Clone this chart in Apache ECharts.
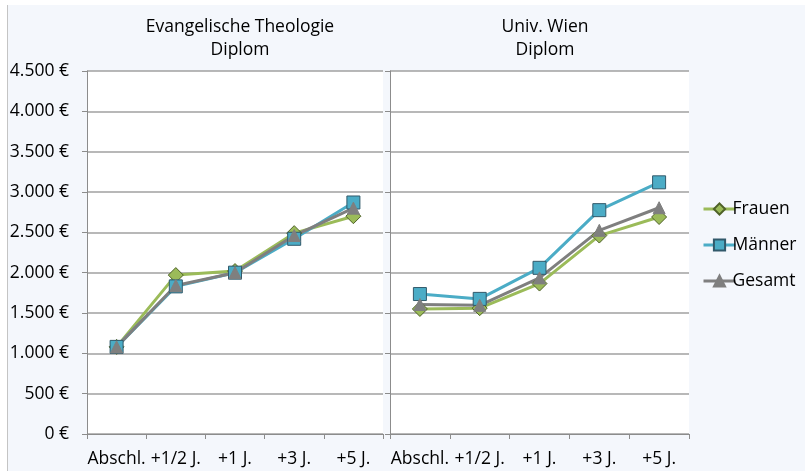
<!DOCTYPE html>
<html>
<head>
<meta charset="utf-8">
<script src="https://cdn.jsdelivr.net/npm/echarts@6/dist/echarts.min.js"></script>
<style>
  html, body { margin: 0; padding: 0; background: #ffffff; }
  #bg { position: absolute; left: 7px; top: 5px; width: 798px; height: 466px;
        background: #f4f7fc; border-left: 1px solid #c4c4c4; box-sizing: border-box; }
  #main { position: absolute; left: 0; top: 0; width: 805px; height: 471px; }
</style>
</head>
<body>
<div id="bg"></div>
<div id="main"></div>
<script>
const categories = ['Abschl.', '+1/2 J.', '+1 J.', '+3 J.', '+5 J.']
const titles = ['Evangelische Theologie\nDiplom', 'Univ. Wien\nDiplom']
const seriesNames = ['Frauen', 'Männer', 'Gesamt']

// Evangelische Theologie, Diplom
const evFrauen = [1080, 1970, 2020, 2490, 2700]
const evMaenner = [1080, 1830, 2000, 2420, 2870]
const evGesamt = [1080, 1840, 2000, 2460, 2800]

// Univ. Wien, Diplom
const wienFrauen = [1550, 1560, 1865, 2460, 2690]
const wienMaenner = [1735, 1675, 2060, 2775, 3120]
const wienGesamt = [1605, 1595, 1935, 2525, 2805]

const greenColor = '#9bbb59',
      blueColor = '#4bacc6',
      grayColor = '#7f7f7f'
const fontName = '"Open Sans", sans-serif'
const fontSize = 17.5

const chart = echarts.init(document.getElementById('main'), null, { renderer: 'canvas' })

function euro(v) {
  return String(v).replace(/\B(?=(\d{3})+(?!\d))/g, '.') + ' €'
}

const styles = [
  { color: greenColor, symbol: 'diamond', size: 15, border: '#4f6228' },
  { color: blueColor, symbol: 'rect', size: 13, border: '#31596a' },
  { color: grayColor, symbol: 'triangle', size: 12, border: grayColor }
]

function makeSeries(grid, dataList) {
  return dataList.map((d, i) => ({
    name: seriesNames[i],
    type: 'line',
    xAxisIndex: grid,
    yAxisIndex: grid,
    data: d,
    symbol: styles[i].symbol,
    symbolSize: styles[i].size,
    showAllSymbol: true,
    lineStyle: { color: styles[i].color, width: 3 },
    itemStyle: { color: styles[i].color, borderColor: styles[i].border, borderWidth: 1 },
    emphasis: { disabled: true },
    animation: false
  }))
}

function xAxis(grid) {
  return {
    type: 'category',
    gridIndex: grid,
    data: categories,
    boundaryGap: true,
    axisLine: { lineStyle: { color: '#8c8c8c', width: 1 } },
    axisTick: { show: true, interval: 0, length: 5, lineStyle: { color: '#8c8c8c' } },
    axisLabel: { interval: 0, margin: 16, color: '#000', fontSize: fontSize, fontFamily: fontName }
  }
}

function yAxis(grid, showLabel) {
  return {
    type: 'value',
    gridIndex: grid,
    min: 0,
    max: 4500,
    interval: 500,
    axisLine: { show: true, lineStyle: { color: '#8c8c8c', width: 1 } },
    axisTick: { show: true, length: 5, lineStyle: { color: '#8c8c8c' } },
    axisLabel: { show: showLabel, formatter: euro, margin: 18, color: '#000', fontSize: fontSize, fontFamily: fontName },
    splitLine: { show: true, lineStyle: { color: '#a0a0a0', width: 1.5 } }
  }
}

const option = {
  backgroundColor: 'transparent',
  title: [
    { text: titles[0], left: 235, top: 11, textAlign: 'center',
      textStyle: { fontSize: fontSize, fontWeight: 'normal', color: '#000', fontFamily: fontName, lineHeight: 23 } },
    { text: titles[1], left: 540, top: 11, textAlign: 'center',
      textStyle: { fontSize: fontSize, fontWeight: 'normal', color: '#000', fontFamily: fontName, lineHeight: 23 } }
  ],
  legend: {
    data: seriesNames,
    orient: 'vertical',
    left: 697,
    top: 195,
    itemWidth: 32,
    itemHeight: 14,
    itemGap: 18,
    lineStyle: { width: 3 },
    textStyle: { fontSize: fontSize, color: '#000', fontFamily: fontName, padding: [0, 0, 0, -8] },
    selectedMode: false
  },
  grid: [
    { left: 87, top: 71, width: 296, height: 363, show: true, backgroundColor: '#ffffff', borderWidth: 0 },
    { left: 390, top: 71, width: 299, height: 363, show: true, backgroundColor: '#ffffff', borderWidth: 0 }
  ],
  xAxis: [xAxis(0), xAxis(1)],
  yAxis: [yAxis(0, true), yAxis(1, false)],
  series: [
    ...makeSeries(0, [evFrauen, evMaenner, evGesamt]),
    ...makeSeries(1, [wienFrauen, wienMaenner, wienGesamt])
  ]
}

chart.setOption(option)
</script>
</body>
</html>
